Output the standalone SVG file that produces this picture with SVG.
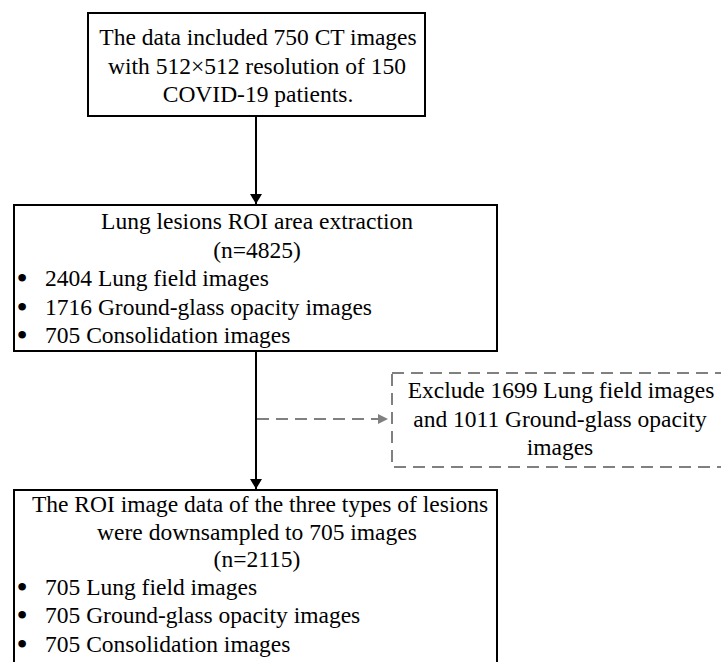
<svg xmlns="http://www.w3.org/2000/svg" width="721" height="662" viewBox="0 0 721 662">
<style>
.c{text-anchor:middle}
.box{fill:#fff;stroke:#000;stroke-width:2}
.dbox{fill:#fff;stroke:#808080;stroke-width:2;stroke-dasharray:12 7}
.ln{stroke:#000;stroke-width:2;fill:none}
.dl{stroke:#808080;stroke-width:2;fill:none;stroke-dasharray:12 7}
</style>
<defs>
<marker id="ah" markerWidth="10" markerHeight="12" refX="10" refY="6" orient="auto" markerUnits="userSpaceOnUse" viewBox="0 0 10 12">
<path d="M0,0 L10,6 L0,12 Z" fill="#000"/>
</marker>
<marker id="ahg" markerWidth="10" markerHeight="10" refX="10" refY="5" orient="auto" markerUnits="userSpaceOnUse" viewBox="0 0 10 10">
<path d="M0,0 L10,5 L0,10 Z" fill="#808080"/>
</marker>
</defs>
<rect width="721" height="662" fill="#fff"/>
<g id="connectors">
<line class="ln" x1="256" y1="117" x2="256" y2="204" marker-end="url(#ah)"/>
<line class="ln" x1="256" y1="352" x2="256" y2="489" marker-end="url(#ah)"/>
<line class="dl" x1="257" y1="419" x2="388" y2="419" marker-end="url(#ahg)"/>
</g>
<g id="node-data">
<rect class="box" x="88" y="13" width="337" height="103"/>
<text class="c" x="258" y="45" font-family="Liberation Serif" font-size="23.5">The data included 750 CT images</text>
<text class="c" x="257" y="73.5" font-family="Liberation Serif" font-size="23.5">with 512&#215;512 resolution of 150</text>
<text class="c" x="258" y="102" font-family="Liberation Serif" font-size="23.5">COVID-19 patients.</text>
</g>
<g id="node-roi">
<rect class="box" x="14" y="205" width="483" height="146"/>
<text class="c" x="257" y="229" font-family="Liberation Serif" font-size="23.5">Lung lesions ROI area extraction</text>
<text class="c" x="257" y="257.5" font-family="Liberation Serif" font-size="23.5">(n=4825)</text>
<text class="c" x="22" y="289" font-family="Liberation Serif" font-size="32">&#8226;</text>
<text x="45" y="286" font-family="Liberation Serif" font-size="23.5">2404 Lung field images</text>
<text class="c" x="22" y="317.5" font-family="Liberation Serif" font-size="32">&#8226;</text>
<text x="45" y="314.5" font-family="Liberation Serif" font-size="23.5">1716 Ground-glass opacity images</text>
<text class="c" x="22" y="346" font-family="Liberation Serif" font-size="32">&#8226;</text>
<text x="45" y="343" font-family="Liberation Serif" font-size="23.5">705 Consolidation images</text>
</g>
<g id="node-exclude">
<rect class="dbox" x="392" y="373" width="340" height="94"/>
<text class="c" x="561" y="398" font-family="Liberation Serif" font-size="23.5">Exclude 1699 Lung field images</text>
<text class="c" x="560" y="427" font-family="Liberation Serif" font-size="23.5">and 1011 Ground-glass opacity</text>
<text class="c" x="560" y="455" font-family="Liberation Serif" font-size="23.5">images</text>
</g>
<g id="node-downsampled">
<rect class="box" x="14" y="490" width="483" height="190"/>
<text class="c" x="260" y="512" font-family="Liberation Serif" font-size="23.5">The ROI image data of the three types of lesions</text>
<text class="c" x="257" y="540" font-family="Liberation Serif" font-size="23.5">were downsampled to 705 images</text>
<text class="c" x="257" y="567" font-family="Liberation Serif" font-size="23.5">(n=2115)</text>
<text class="c" x="22" y="598" font-family="Liberation Serif" font-size="32">&#8226;</text>
<text x="45" y="595" font-family="Liberation Serif" font-size="23.5">705 Lung field images</text>
<text class="c" x="22" y="626" font-family="Liberation Serif" font-size="32">&#8226;</text>
<text x="45" y="623" font-family="Liberation Serif" font-size="23.5">705 Ground-glass opacity images</text>
<text class="c" x="22" y="655" font-family="Liberation Serif" font-size="32">&#8226;</text>
<text x="45" y="652" font-family="Liberation Serif" font-size="23.5">705 Consolidation images</text>
</g>
</svg>
